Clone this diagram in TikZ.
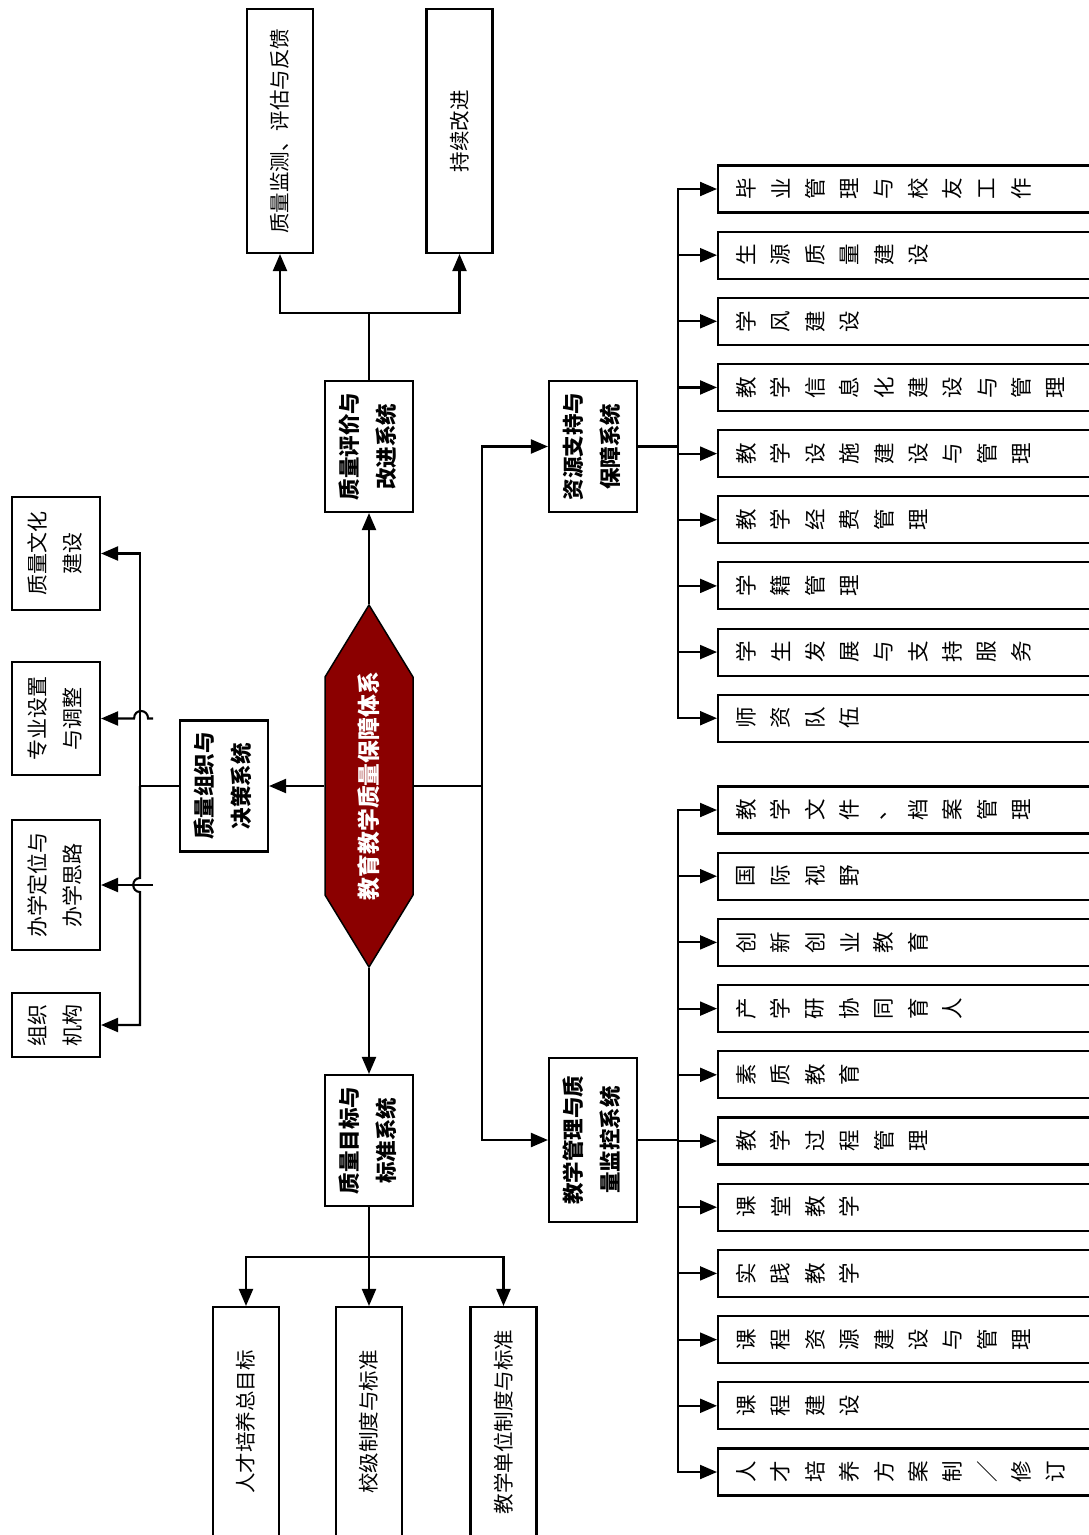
\documentclass[tikz,border=0pt]{standalone}
\usepackage{graphicx}
\usepackage{fontspec}
\newfontfamily\cjkfont{Noto Sans CJK SC}
\usetikzlibrary{positioning,arrows.meta,calc}
\definecolor{QARed}{HTML}{8B0000}
\makeatletter
\newcommand{\rottext}[1]{\rotatebox{90}{\begin{tabular}{@{}c@{}}#1\end{tabular}}}
\newcommand{\spreadtxt}[1]{\@tfor\spch:=#1\do{\makebox[34.4pt]{\rotatebox{90}{\spch}}}}
\makeatother

\begin{document}
\begin{tikzpicture}[x=1pt,y=-1pt,>={Triangle[length=17pt,width=14pt]},line width=2.1pt,
 sysbox/.style={draw,fill=white,minimum width=88pt,minimum height=131pt,inner sep=0pt,font=\cjkfont\bfseries\fontsize{21.5}{37}\selectfont},
 leaf/.style={draw,fill=white,minimum width=88pt,inner sep=0pt,font=\cjkfont\fontsize{21}{35}\selectfont},
 sidebox/.style={draw,fill=white,minimum width=66pt,inner sep=0pt,font=\cjkfont\fontsize{20.5}{25}\selectfont},
 itembox/.style={draw,fill=white,anchor=west,minimum height=47pt,inner xsep=11pt,inner ysep=0pt,font=\cjkfont\fontsize{21.5}{25}\selectfont}]
\useasboundingbox (0,0) rectangle (1089,1535);
\clip (0,0) rectangle (1089,1535);
% core hexagon
\coordinate (c) at (369,786);
\draw[fill=QARed,line width=1.5pt] ($(c)+(0,-181)$) -- ($(c)+(44,-109)$) -- ($(c)+(44,109)$) -- ($(c)+(0,181)$) -- ($(c)+(-44,109)$) -- ($(c)+(-44,-109)$) -- cycle;
\node[minimum width=88pt,minimum height=362pt,inner sep=0pt,text=white,font=\cjkfont\bfseries\fontsize{22.8}{26}\selectfont] (core) at (c) {\rotatebox{90}{教育教学质量保障体系}};
% systems
\node[sysbox] (org) at (224,786) {\rottext{质量组织与\\决策系统}};
\node[sysbox] (eval) at (369,446.5) {\rottext{质量评价与\\改进系统}};
\node[sysbox] (target) at (369,1140.5) {\rottext{质量目标与\\标准系统}};
\node[sysbox] (res) at (593,446.5) {\rottext{资源支持与\\保障系统}};
\node[sysbox,minimum height=164pt] (mgmt) at (593,1140) {\rottext{教学管理与质\\量监控系统}};
% left leaves
\node[leaf,minimum height=113pt] (cult) at (56,553.5) {\rottext{质量文化\\建设}};
\node[leaf,minimum height=113pt] (major) at (56,718.5) {\rottext{专业设置\\与调整}};
\node[leaf,minimum height=130pt] (pos) at (56,885) {\rottext{办学定位与\\办学思路}};
\node[leaf,minimum height=64pt] (inst) at (56,1025) {\rottext{组织\\机构}};
% top and bottom leaves
\node[sidebox,minimum height=244pt] (mon) at (280,131) {\rotatebox{90}{质量监测、评估与反馈}};
\node[sidebox,minimum height=244pt] (imp) at (459.5,131) {\rotatebox{90}{持续改进}};
\node[sidebox,minimum height=230pt] (goal) at (246,1422) {\rotatebox{90}{人才培养总目标}};
\node[sidebox,minimum height=230pt] (sch) at (369,1422) {\rotatebox{90}{校级制度与标准}};
\node[sidebox,minimum height=230pt] (unit) at (503.5,1422) {\rotatebox{90}{教学单位制度与标准}};
% right leaves
\foreach \lbl [count=\i] in {毕业管理与校友工作,生源质量建设,学风建设,教学信息化建设与管理,教学设施建设与管理,教学经费管理,学籍管理,学生发展与支持服务,师资队伍}
  \node[itembox] (r\i) at (717,{189+66.15*(\i-1)}) {\makebox[370pt][l]{\expandafter\spreadtxt\expandafter{\lbl}}};
\foreach \lbl [count=\i] in {教学文件、档案管理,国际视野,创新创业教育,产学研协同育人,素质教育,教学过程管理,课堂教学,实践教学,课程资源建设与管理,课程建设,人才培养方案制／修订}
  \node[itembox] (m\i) at (717,{810+66.2*(\i-1)}) {\makebox[370pt][l]{\expandafter\spreadtxt\expandafter{\lbl}}};
% connectors
\draw[->] (core.west) -- (org.east);
\draw[->] (core.north) -- (eval.south);
\draw[->] (core.south) -- (target.north);
\coordinate (orgbus) at (140,786);
\draw (org.west) -- (orgbus);
\draw[->] (orgbus) |- (cult.east);
\draw[->] (orgbus) -- ($(orgbus)+(0,92)$) .. controls +(-9,0) and +(-9,0) .. ($(orgbus)+(0,106)$) |- (inst.east);
\draw[->] ($(major.east)+(52,0)$) -- ($(major.east)+(47,0)$) .. controls +(0,-10) and +(0,-10) .. ($(major.east)+(33,0)$) -- (major.east);
\draw[->] ($(pos.east)+(52,0)$) -- (pos.east);
\coordinate (evfork) at (369,313);
\draw (eval.north) -- (evfork);
\draw[->] (evfork) -| (mon.south);
\draw[->] (evfork) -| (imp.south);
\coordinate (tgfork) at (369,1257);
\draw (target.south) -- (tgfork);
\foreach \b in {goal,sch,unit}
  \draw[->] (tgfork) -| (\b.north);
\coordinate (rbus) at (482,786);
\draw (core.east) -- (rbus);
\draw[->] (rbus) |- (res.west);
\draw[->] (rbus) |- (mgmt.west);
\coordinate (resbus) at ($(res.east)+(40,0)$);
\draw (res.east) -- (resbus);
\foreach \i in {1,...,9}
  \draw[->] (resbus) |- (r\i.west);
\coordinate (mgmtbus) at ($(mgmt.east)+(40,0)$);
\draw (mgmt.east) -- (mgmtbus);
\foreach \i in {1,...,11}
  \draw[->] (mgmtbus) |- (m\i.west);
\end{tikzpicture}
\end{document}
